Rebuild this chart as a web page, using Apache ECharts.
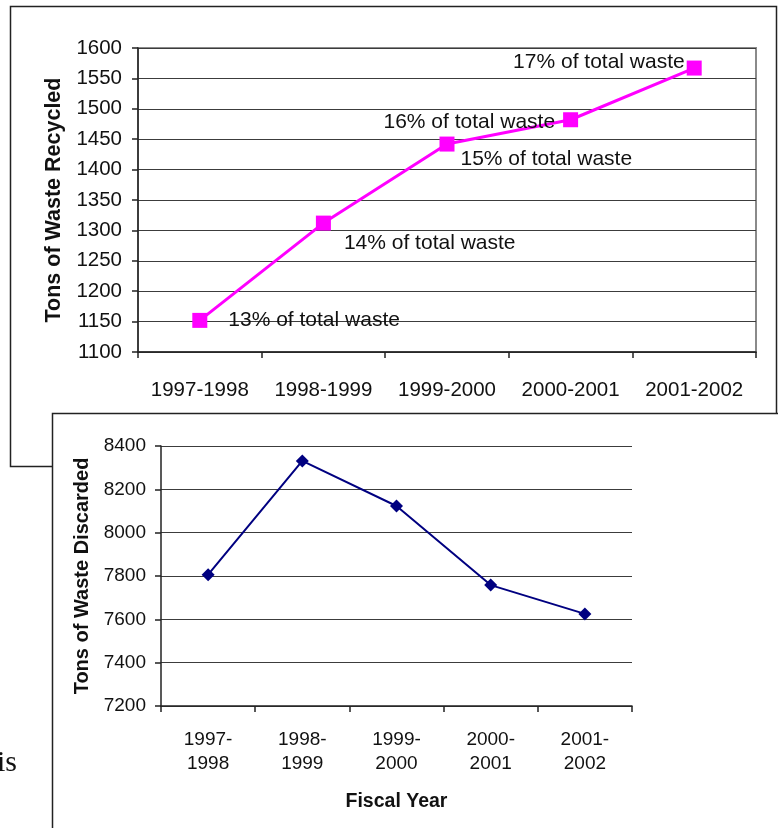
<!DOCTYPE html>
<html>
<head>
<meta charset="utf-8">
<script src="https://cdn.jsdelivr.net/npm/echarts@6/dist/echarts.min.js"></script>
<style>
  html, body { margin: 0; padding: 0; background: #ffffff; }
  #chart { width: 778px; height: 828px; }
</style>
</head>
<body>
<div id="chart"></div>
<script>
// Fiscal years shared by both charts
const fiscalYears = ['1997-1998', '1998-1999', '1999-2000', '2000-2001', '2001-2002'];

// Tons of waste recycled per year, with its share of total waste
const recycledTons = [1152, 1312, 1442, 1482, 1567];
const recycledShare = [13, 14, 15, 16, 17];

// Tons of waste discarded per year
const discardedTons = [7806, 8331, 8123, 7758, 7625];

// Axis ranges
const recycledAxis = { min: 1100, max: 1600, step: 50 };
const discardedAxis = { min: 7200, max: 8400, step: 200 };

// Placement of each share label around its marker
const shareLabelPlacement = [
  { position: 'right', offset: [16, 0] },
  { position: 'right', offset: [8, 20] },
  { position: 'right', offset: [1, 15] },
  { position: 'left', offset: [-3, 2] },
  { position: 'left', offset: [3, -6] }
];

const FONT = '"Liberation Sans", Arial, sans-serif';

const chart = echarts.init(document.getElementById('chart'), null, { renderer: 'canvas' });

const recycledData = recycledTons.map((v, i) => ({
  value: v,
  label: {
    show: true,
    position: shareLabelPlacement[i].position,
    offset: shareLabelPlacement[i].offset,
    formatter: recycledShare[i] + '% of total waste'
  }
}));

const plainNumber = v => String(v);

chart.setOption({
  animation: false,
  backgroundColor: 'transparent',
  graphic: {
    elements: [
      // frame of the recycling chart
      { type: 'rect', z: -10, shape: { x: 10.5, y: 6.5, width: 766, height: 460 },
        style: { fill: '#ffffff', stroke: '#222222', lineWidth: 1.5 } },
      // frame of the discarded-waste chart, laid over the first one
      { type: 'rect', z: -5, shape: { x: 52.5, y: 413.5, width: 800, height: 500 },
        style: { fill: '#ffffff', stroke: '#222222', lineWidth: 1.5 } },
      // fragment of the surrounding document text
      { type: 'text', z: -5, style: { x: 17, y: 778, text: 'is', textAlign: 'right',
        textVerticalAlign: 'bottom', font: '30px "Liberation Serif", "Times New Roman", serif', fill: '#111' } }
    ]
  },
  grid: [
    { left: 138, top: 48, right: 22, bottom: 476, show: true, borderColor: '#8a8a8a', borderWidth: 2, backgroundColor: 'transparent' },
    { left: 161, top: 446, right: 146, bottom: 122 }
  ],
  xAxis: [
    {
      gridIndex: 0, type: 'category', data: fiscalYears, boundaryGap: true,
      axisLine: { lineStyle: { color: '#222', width: 1.5 } },
      axisTick: { show: true, length: 6, inside: false, interval: 0, lineStyle: { color: '#222', width: 1.5 } },
      axisLabel: { color: '#111', fontFamily: FONT, fontSize: 20.5, margin: 28, interval: 0 },
      splitLine: { show: false }
    },
    {
      gridIndex: 1, type: 'category', data: fiscalYears, boundaryGap: true,
      name: 'Fiscal Year', nameLocation: 'middle', nameGap: 86,
      nameTextStyle: { color: '#111', fontFamily: FONT, fontSize: 19.5, fontWeight: 'bold' },
      axisLine: { lineStyle: { color: '#222', width: 1.5 } },
      axisTick: { show: true, length: 6, inside: false, interval: 0, lineStyle: { color: '#222', width: 1.5 } },
      axisLabel: {
        color: '#111', fontFamily: FONT, fontSize: 19, margin: 22, lineHeight: 24, interval: 0,
        formatter: v => v.replace('-', '-\n')
      },
      splitLine: { show: false }
    }
  ],
  yAxis: [
    {
      gridIndex: 0, type: 'value', min: recycledAxis.min, max: recycledAxis.max, interval: recycledAxis.step,
      name: 'Tons of Waste Recycled', nameLocation: 'middle', nameGap: 72, nameRotate: 90,
      nameTextStyle: { color: '#111', fontFamily: FONT, fontSize: 21.5, fontWeight: 'bold' },
      axisLine: { show: true, lineStyle: { color: '#222', width: 1.5 } },
      axisTick: { show: true, length: 6, lineStyle: { color: '#222', width: 1.5 } },
      axisLabel: { color: '#111', fontFamily: FONT, fontSize: 20.5, margin: 16, formatter: plainNumber },
      splitLine: { show: true, lineStyle: { color: '#3c3c3c', width: 1.2 } }
    },
    {
      gridIndex: 1, type: 'value', min: discardedAxis.min, max: discardedAxis.max, interval: discardedAxis.step,
      name: 'Tons of Waste Discarded', nameLocation: 'middle', nameGap: 67, nameRotate: 90,
      nameTextStyle: { color: '#111', fontFamily: FONT, fontSize: 20, fontWeight: 'bold' },
      axisLine: { show: true, lineStyle: { color: '#222', width: 1.5 } },
      axisTick: { show: true, length: 6, lineStyle: { color: '#222', width: 1.5 } },
      axisLabel: { color: '#111', fontFamily: FONT, fontSize: 19, margin: 15, formatter: plainNumber },
      splitLine: { show: true, lineStyle: { color: '#3c3c3c', width: 1.2 } }
    }
  ],
  series: [
    {
      name: 'Recycled', type: 'line', xAxisIndex: 0, yAxisIndex: 0,
      data: recycledData,
      symbol: 'rect', symbolSize: 15,
      lineStyle: { color: '#ff00ff', width: 3 },
      itemStyle: { color: '#ff00ff' },
      label: { color: '#111', fontFamily: FONT, fontSize: 21 },
      emphasis: { disabled: true }
    },
    {
      name: 'Discarded', type: 'line', xAxisIndex: 1, yAxisIndex: 1,
      data: discardedTons,
      symbol: 'diamond', symbolSize: 13,
      lineStyle: { color: '#000080', width: 2 },
      itemStyle: { color: '#000080' },
      emphasis: { disabled: true }
    }
  ]
});
</script>
</body>
</html>
